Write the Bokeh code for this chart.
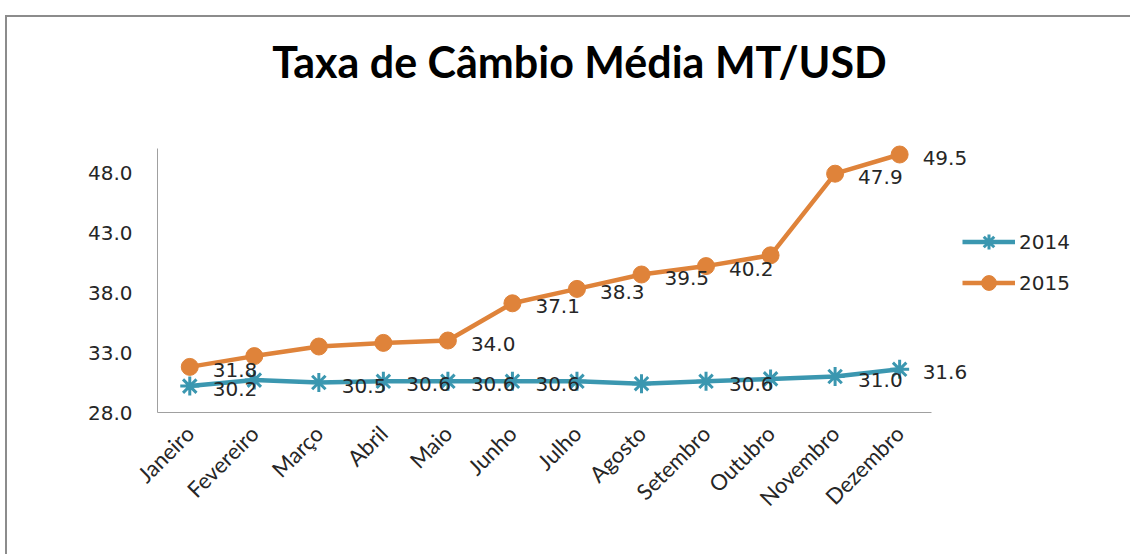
import math
from bokeh.plotting import figure
from bokeh.models import (FactorRange, Range1d, FixedTicker, NumeralTickFormatter,
                          Label, LabelSet, ColumnDataSource)
from bokeh.core.properties import value
from bokeh.embed import file_html
from bokeh.resources import INLINE

months = ["Janeiro", "Fevereiro", "Março", "Abril", "Maio", "Junho", "Julho",
          "Agosto", "Setembro", "Outubro", "Novembro", "Dezembro"]
rate_2014 = [30.2, 30.7, 30.5, 30.6, 30.6, 30.6, 30.6, 30.4, 30.6, 30.8, 31.0, 31.6]
rate_2015 = [31.8, 32.7, 33.5, 33.8, 34.0, 37.1, 38.3, 39.5, 40.2, 41.1, 47.9, 49.5]
labelled_2014 = [True, False, True, True, True, True, False, False, True, False, True, True]
labelled_2015 = [True, False, False, False, True, True, True, True, True, False, True, True]
y_ticks = [28, 33, 38, 43, 48]
y_axis_min, y_axis_max = 28, 50
series_names = ["2014", "2015"]
title_text = "Taxa de Câmbio Média MT/USD"

C2014 = "#3b97b0"
C2015 = "#df833a"
TXT = "#262626"

# layout (pixels)
W, H = 1125, 539
AX_LEFT = 150                 # space for y labels
AXIS_H = 264                  # height of the value axis
FRAME_H = 395                 # frame reaches the top of the canvas
N_PAD = 3                     # empty slots to the right (legend / labels room)
SLOT = 774 / len(months)
FRAME_W = round(SLOT * (len(months) + N_PAD))
y_top = y_axis_min + (y_axis_max - y_axis_min) * FRAME_H / AXIS_H

factors = months + [" " * (i + 1) for i in range(N_PAD)]
p = figure(x_range=FactorRange(*factors, range_padding=0),
           y_range=Range1d(y_axis_min, y_top),
           width=W, height=H, output_backend="svg", toolbar_location=None,
           min_border_left=AX_LEFT, min_border_top=0,
           min_border_right=W - AX_LEFT - FRAME_W, min_border_bottom=H - FRAME_H)
p.styles = {"margin-left": "5px", "margin-top": "15px",
            "border-left": "2px solid #8c8c8c", "border-top": "2px solid #8c8c8c"}
p.outline_line_color = None
p.xgrid.grid_line_color = None
p.ygrid.grid_line_color = None
p.background_fill_color = "white"
p.border_fill_color = "white"

# axes
p.yaxis.ticker = FixedTicker(ticks=y_ticks)
p.yaxis.formatter = NumeralTickFormatter(format="0.0")
p.yaxis.bounds = (y_axis_min, y_axis_max)
p.xaxis.bounds = (0, len(months))
for ax in (p.xaxis[0], p.yaxis[0]):
    ax.axis_line_color = "#a0a0a0"
    ax.axis_line_width = 1
    ax.major_tick_line_color = None
    ax.minor_tick_line_color = None
    ax.major_tick_out = 0
    ax.major_tick_in = 0
    ax.major_label_text_color = TXT
p.yaxis.major_label_text_font = "DejaVu Sans"
p.yaxis.major_label_text_font_size = "20px"
p.yaxis.major_label_standoff = 25
p.xaxis.major_label_text_font = "Lato"
p.xaxis.major_label_text_font_size = "22px"
p.xaxis.major_label_orientation = math.pi / 4
p.xaxis.major_label_standoff = 17

# series
src14 = ColumnDataSource(dict(x=months, y=rate_2014))
src15 = ColumnDataSource(dict(x=months, y=rate_2015))
p.line("x", "y", source=src14, line_color=C2014, line_width=4.5, legend_label=series_names[0])
p.scatter("x", "y", source=src14, marker="asterisk", size=19, line_color=C2014,
          line_width=3, legend_label=series_names[0])
p.line("x", "y", source=src15, line_color=C2015, line_width=4.5, legend_label=series_names[1])
p.scatter("x", "y", source=src15, marker="circle", size=17, fill_color=C2015,
          line_color=C2015, legend_label=series_names[1])

# data labels
def label_source(vals, flags):
    xs = [m for m, f in zip(months, flags) if f]
    ys = [v for v, f in zip(vals, flags) if f]
    return ColumnDataSource(dict(x=xs, y=ys, t=[f"{v:.1f}" for v in ys]))

for vals, flags in ((rate_2014, labelled_2014), (rate_2015, labelled_2015)):
    p.add_layout(LabelSet(x="x", y="y", text="t", source=label_source(vals, flags),
                          x_offset=23, y_offset=-3, text_align="left",
                          text_baseline="middle", text_font=value("DejaVu Sans"),
                          text_font_size=value("20px"), text_color=TXT))

# title
p.add_layout(Label(x=422, y=351, x_units="screen", y_units="screen", text=title_text,
                   text_align="center", text_baseline="middle", text_font="Lato",
                   text_font_style="bold", text_font_size="43px", text_color="black"))

# legend
lg = p.legend[0]
lg.location = (805, 111)
lg.orientation = "vertical"
lg.background_fill_alpha = 0
lg.border_line_color = None
lg.padding = 0
lg.margin = 0
lg.spacing = 4
lg.glyph_width = 53
lg.glyph_height = 37
lg.label_height = 37
lg.label_standoff = 4
lg.label_text_font = "DejaVu Sans"
lg.label_text_font_size = "20px"
lg.label_text_color = TXT

open("out.html", "w").write(file_html(p, INLINE))
